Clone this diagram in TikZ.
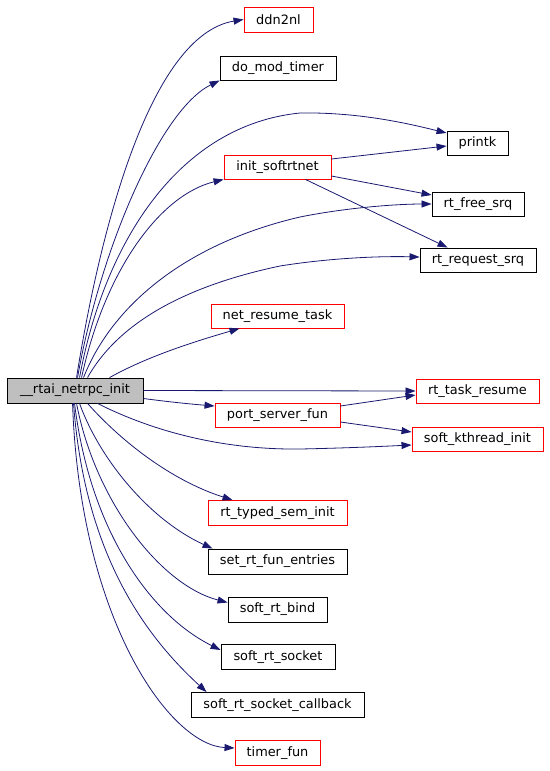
\documentclass[tikz,border=0pt]{standalone}
\usepackage{fontspec}
\setmainfont{DejaVu Sans}
\usetikzlibrary{arrows.meta,calc}
\definecolor{edgeblue}{HTML}{191970}
\definecolor{rootgray}{HTML}{BFBFBF}
\begin{document}
\begin{tikzpicture}[x=1pt,y=-1pt,
  box/.style={draw=black,line width=0.9pt,fill=white,inner sep=0pt,minimum height=24pt,font=\fontsize{12.9}{15}\selectfont},
  redbox/.style={box,draw=red},
  edge/.style={draw=edgeblue,line width=0.8pt,-{Triangle[length=10pt,width=7pt]}}]
\useasboundingbox (0,0) rectangle (549,771);
% nodes
\node[box,fill=rootgray,minimum width=136pt,minimum height=25pt] (root) at (75,390.5) {\_\_rtai\_netrpc\_init};
\node[redbox,minimum width=69pt,minimum height=25pt] (ddn2nl) at (278.5,19.5) {ddn2nl};
\node[box,minimum width=116pt] (do_mod_timer) at (278,68) {do\_mod\_timer};
\node[box,minimum width=61pt] (printk) at (477.5,143) {printk};
\node[redbox,minimum width=107pt] (init_softrtnet) at (277.5,167) {init\_softrtnet};
\node[box,minimum width=92pt] (rt_free_srq) at (478,204) {rt\_free\_srq};
\node[box,minimum width=116pt] (rt_request_srq) at (478,260) {rt\_request\_srq};
\node[redbox,minimum width=133pt] (net_resume_task) at (277.5,316) {net\_resume\_task};
\node[redbox,minimum width=123pt] (rt_task_resume) at (477.5,391) {rt\_task\_resume};
\node[redbox,minimum width=125pt] (port_server_fun) at (277.5,415) {port\_server\_fun};
\node[redbox,minimum width=131pt] (soft_kthread_init) at (477.5,439) {soft\_kthread\_init};
\node[redbox,minimum width=139pt,minimum height=25pt] (rt_typed_sem_init) at (277.5,513) {rt\_typed\_sem\_init};
\node[box,minimum width=139pt,minimum height=25pt] (set_rt_fun_entries) at (277.5,561.5) {set\_rt\_fun\_entries};
\node[box,minimum width=99pt,minimum height=25pt] (soft_rt_bind) at (277.5,609.5) {soft\_rt\_bind};
\node[box,minimum width=114pt,minimum height=25pt] (soft_rt_socket) at (278,657) {soft\_rt\_socket};
\node[box,minimum width=173pt,minimum height=25pt] (soft_rt_socket_callback) at (277.5,705) {soft\_rt\_socket\_callback};
\node[redbox,minimum width=85pt,minimum height=25pt] (timer_fun) at (277.5,753) {timer\_fun};
% edges from root
\draw[edge] ($(root.north west)+(70,0)$) .. controls (100,230) and (150,35) .. (ddn2nl.west);
\draw[edge] ($(root.north west)+(71,0)$) .. controls (100,250) and (160,110) .. (do_mod_timer.south west);
\draw[edge] ($(root.north west)+(73,0)$) .. controls (105,240) and (180,125) .. (300,113) .. controls (360,112) and (410,124) .. ($(printk.west)+(0,-10)$);
\draw[edge] ($(root.north west)+(75,0)$) .. controls (105,270) and (160,195) .. (init_softrtnet.south west);
\draw[edge] ($(root.north west)+(77,0)$) .. controls (110,310) and (180,245) .. (300,217) .. controls (350,207) and (400,204) .. (rt_free_srq.west);
\draw[edge] ($(root.north west)+(81,0)$) .. controls (120,320) and (190,285) .. (280,266) .. controls (330,258) and (380,256) .. ($(rt_request_srq.west)+(0,-3)$);
\draw[edge] ($(root.north west)+(103,0)$) .. controls (150,355) and (200,340) .. ($(net_resume_task.south west)+(29,0)$);
\draw[edge] (root.east) -- (rt_task_resume.west);
\draw[edge] ($(root.east)+(0,8)$) .. controls (170,402) and (190,404) .. ($(port_server_fun.west)+(0,-9)$);
\draw[edge] ($(root.south west)+(91,0)$) .. controls (150,430) and (220,450) .. (300,449) .. controls (350,448) and (390,446) .. ($(soft_kthread_init.west)+(0,6)$);
\draw[edge] ($(root.south west)+(81,0)$) .. controls (120,440) and (170,480) .. ($(rt_typed_sem_init.north west)+(25,0)$);
\draw[edge] ($(root.south west)+(73,0)$) .. controls (100,460) and (150,520) .. ($(set_rt_fun_entries.north west)+(5,0)$);
\draw[edge] ($(root.south west)+(70,0)$) .. controls (95,500) and (160,585) .. ($(soft_rt_bind.west)+(0,-7)$);
\draw[edge] ($(root.south west)+(68,0)$) .. controls (90,530) and (150,615) .. ($(soft_rt_socket.west)+(0,-7)$);
\draw[edge] ($(root.south west)+(67,0)$) .. controls (85,560) and (150,640) .. ($(soft_rt_socket_callback.north west)+(16,0)$);
\draw[edge] ($(root.south west)+(66,0)$) .. controls (80,620) and (170,745) .. ($(timer_fun.west)+(0,-5)$);
% edges from port_server_fun
\draw[edge] ($(port_server_fun.east)+(0,-9)$) -- ($(rt_task_resume.west)+(0,4)$);
\draw[edge] ($(port_server_fun.east)+(0,7)$) -- ($(soft_kthread_init.west)+(0,-7)$);
% edges from init_softrtnet
\draw[edge] ($(init_softrtnet.east)+(0,-8)$) -- ($(printk.west)+(0,3)$);
\draw[edge] ($(init_softrtnet.east)+(0,9)$) -- ($(rt_free_srq.west)+(0,-9)$);
\draw[edge] ($(init_softrtnet.south east)+(-26,0)$) -- ($(rt_request_srq.north west)+(28,0)$);
\end{tikzpicture}
\end{document}
